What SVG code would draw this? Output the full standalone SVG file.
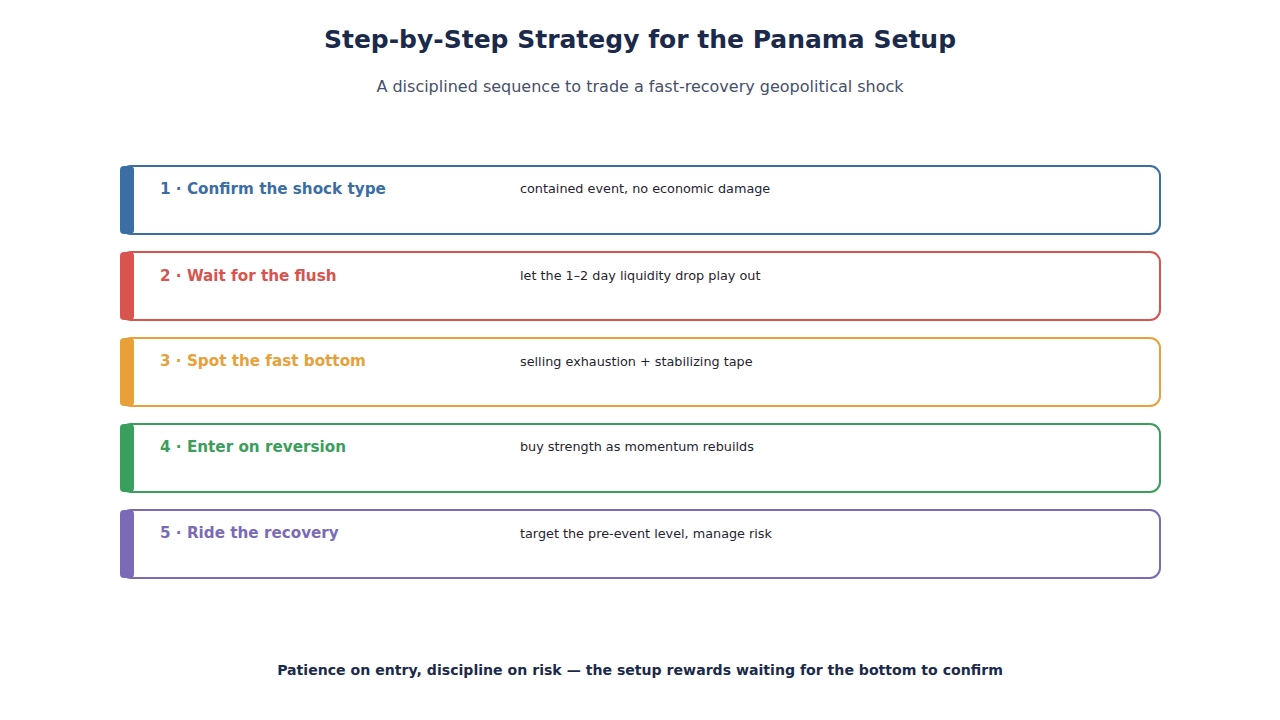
<svg xmlns="http://www.w3.org/2000/svg" width="1280" height="720" viewBox="0 0 1280 720">
<style>
.t{font-family:"DejaVu Sans",sans-serif;}
.title{font-size:25px;font-weight:bold;fill:#1b2a4a;text-anchor:middle;}
.sub{font-size:16px;fill:#45506a;text-anchor:middle;}
.foot{font-size:14.1px;font-weight:bold;fill:#1b2a4a;text-anchor:middle;}
.box{fill:#fff;stroke-width:2;}
.h{font-size:15.2px;font-weight:bold;}
.d{font-size:12.8px;fill:#1f2430;}
</style>
<rect width="1280" height="720" fill="#fff"/>
<text class="t title" x="640" y="48">Step-by-Step Strategy for the Panama Setup</text>
<text class="t sub" x="640" y="92">A disciplined sequence to trade a fast-recovery geopolitical shock</text>
<g id="step1">
<rect class="box" x="121" y="166" width="1039" height="68" rx="10" stroke="#3a6ea5"/>
<rect x="120" y="166" width="14" height="68" rx="4" fill="#3a6ea5"/>
<text class="t h" x="160" y="194" fill="#3a6ea5">1 · Confirm the shock type</text>
<text class="t d" x="520" y="193">contained event, no economic damage</text>
</g>
<g id="step2">
<rect class="box" x="121" y="252" width="1039" height="68" rx="10" stroke="#d9534f"/>
<rect x="120" y="252" width="14" height="68" rx="4" fill="#d9534f"/>
<text class="t h" x="160" y="281" fill="#d9534f">2 · Wait for the flush</text>
<text class="t d" x="520" y="280">let the 1–2 day liquidity drop play out</text>
</g>
<g id="step3">
<rect class="box" x="121" y="338" width="1039" height="68" rx="10" stroke="#e8a03a"/>
<rect x="120" y="338" width="14" height="68" rx="4" fill="#e8a03a"/>
<text class="t h" x="160" y="366" fill="#e8a03a">3 · Spot the fast bottom</text>
<text class="t d" x="520" y="366">selling exhaustion + stabilizing tape</text>
</g>
<g id="step4">
<rect class="box" x="121" y="424" width="1039" height="68" rx="10" stroke="#3a9e5c"/>
<rect x="120" y="424" width="14" height="68" rx="4" fill="#3a9e5c"/>
<text class="t h" x="160" y="452" fill="#3a9e5c">4 · Enter on reversion</text>
<text class="t d" x="520" y="451">buy strength as momentum rebuilds</text>
</g>
<g id="step5">
<rect class="box" x="121" y="510" width="1039" height="68" rx="10" stroke="#7b6bb5"/>
<rect x="120" y="510" width="14" height="68" rx="4" fill="#7b6bb5"/>
<text class="t h" x="160" y="538" fill="#7b6bb5">5 · Ride the recovery</text>
<text class="t d" x="520" y="538">target the pre-event level, manage risk</text>
</g>
<g id="connectors"></g>
<text class="t foot" x="640" y="675">Patience on entry, discipline on risk — the setup rewards waiting for the bottom to confirm</text>
</svg>
